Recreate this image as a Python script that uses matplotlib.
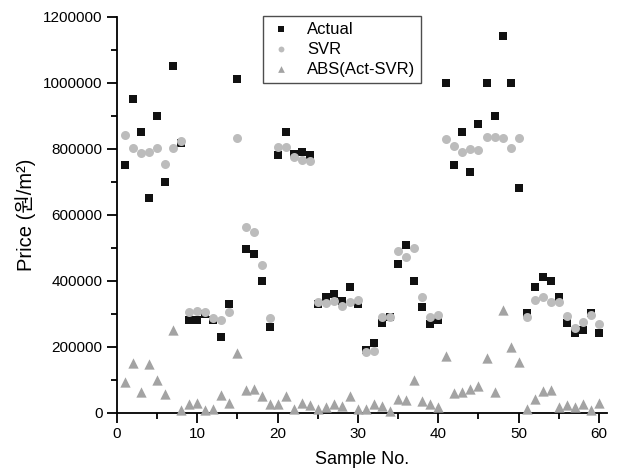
import numpy as np
import matplotlib
matplotlib.use('Agg')
import matplotlib.pyplot as plt
from matplotlib.ticker import MultipleLocator

plt.rcParams['font.family'] = ['Liberation Sans', 'Noto Sans CJK KR', 'DejaVu Sans']

# Sample numbers 1..60
sample_no = np.arange(1, 61)

# Actual prices (won/m2)
actual = [750000, 950000, 850000, 650000, 900000, 700000, 1050000, 818000, 280000, 280000,
          300000, 280000, 230000, 329000, 1010000, 495000, 480000, 400000, 260000, 780000,
          850000, 784000, 790000, 780000, 328000, 350000, 360000, 339000, 380000, 329000,
          190000, 211000, 271000, 290000, 450000, 509000, 400000, 320000, 270000, 280000,
          1000000, 750000, 850000, 730000, 875000, 1000000, 900000, 1140000, 1000000, 680000,
          301000, 380000, 410000, 400000, 350000, 271000, 241000, 250000, 301000, 241000]

# SVR predictions
svr = [840000, 802000, 787000, 790000, 803000, 755000, 802000, 824000, 304000, 308000,
       304000, 288000, 281000, 304000, 833000, 563000, 548000, 448000, 286000, 804000,
       804000, 776000, 766000, 764000, 336000, 333000, 338000, 324000, 335000, 341000,
       184000, 188000, 290000, 290000, 491000, 473000, 498000, 351000, 291000, 296000,
       829000, 807000, 791000, 798000, 795000, 836000, 836000, 831000, 803000, 833000,
       291000, 341000, 350000, 335000, 335000, 293000, 258000, 276000, 296000, 268000]

# Absolute error |Actual - SVR|
abs_err = [94000, 150000, 64000, 147000, 99000, 56000, 251000, 8000, 25000, 28000,
           8000, 11000, 54000, 28000, 180000, 69000, 72000, 51000, 26000, 25000,
           50000, 10000, 28000, 23000, 12000, 18000, 26000, 20000, 50000, 12000,
           10000, 25000, 21000, 5000, 42000, 40000, 99000, 35000, 26000, 18000,
           172000, 59000, 62000, 71000, 81000, 165000, 64000, 311000, 198000, 155000,
           12000, 42000, 66000, 69000, 18000, 24000, 18000, 26000, 8000, 30000]

fig = plt.figure(figsize=(6.21, 4.74), dpi=100)
ax = fig.add_axes([0.1884, 0.1293, 0.7891, 0.8355])

ax.scatter(sample_no, actual, marker='s', s=34, color='#111111', label='Actual',
           zorder=3, clip_on=False, linewidths=0)
ax.scatter(sample_no, svr, marker='o', s=42, color='#bcbcbc', label='SVR',
           zorder=4, clip_on=False, linewidths=0)
ax.scatter(sample_no, abs_err, marker='^', s=55, color='#a3a3a3', label='ABS(Act-SVR)',
           zorder=5, clip_on=False, linewidths=0)

ax.set_xlim(0, 61)
ax.set_ylim(0, 1200000)
ax.xaxis.set_major_locator(MultipleLocator(10))
ax.xaxis.set_minor_locator(MultipleLocator(5))
ax.yaxis.set_major_locator(MultipleLocator(200000))
ax.yaxis.set_minor_locator(MultipleLocator(100000))
ax.ticklabel_format(axis='y', style='plain', useOffset=False)

for side in ['top', 'right']:
    ax.spines[side].set_visible(False)
for side in ['left', 'bottom']:
    ax.spines[side].set_linewidth(1.3)

ax.tick_params(which='major', direction='out', length=7, width=1.3, labelsize=11)
ax.tick_params(which='minor', direction='out', length=4, width=1.3)

ax.set_xlabel('Sample No.', fontsize=13, labelpad=7)
ax.set_ylabel('Price (원/m²)', fontsize=14.5, labelpad=5)

leg = ax.legend(loc='upper left', bbox_to_anchor=(0.298, 1.002), fontsize=12,
                frameon=True, fancybox=False, edgecolor='#222222',
                borderaxespad=0, handletextpad=0.8, borderpad=0.35, labelspacing=0.3,
                handlelength=1.5, scatterpoints=1, markerscale=0.65)
leg.get_frame().set_linewidth(1.0)

plt.savefig('out.png', dpi=100)
